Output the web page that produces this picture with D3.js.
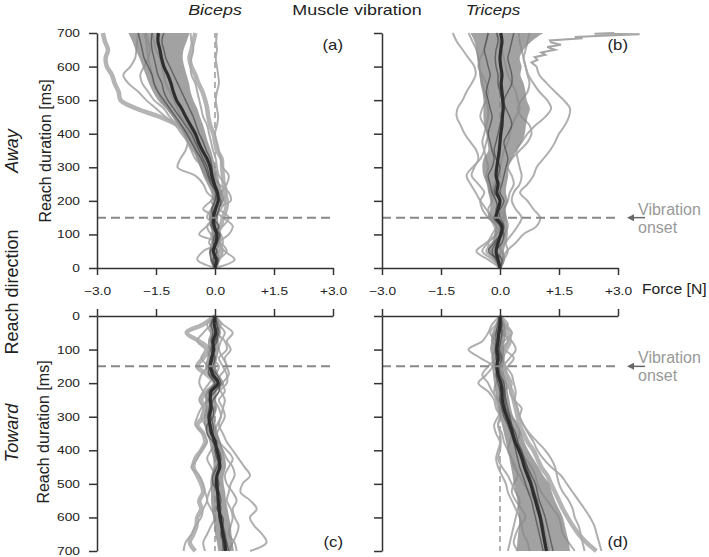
<!DOCTYPE html>
<html>
<head>
<meta charset="utf-8">
<script src="https://cdn.jsdelivr.net/npm/d3@7"></script>
<style>
  body { margin: 0; background: #fff; }
  svg { display: block; font-family: "Liberation Sans", Arial, sans-serif; }
</style>
</head>
<body>
<svg width="709" height="557"></svg>
<script>
// sample times (ms) shared by every trace
var times = [0, 25, 50, 75, 100, 125, 150, 175, 200, 225, 250, 275, 300, 325, 350, 375, 400, 425, 450, 475, 500, 525, 550, 575, 600, 625, 650, 675, 700];
var forceTicks = [-3, -1.5, 0, 1.5, 3];
var timeTicks = [0, 100, 200, 300, 400, 500, 600, 700];
var onsetTime = 150;

// (a) biceps, reach away
var bicAwayMean = [0.00, 0.03, -0.04, 0.02, 0.05, -0.02, -0.04, 0.01, 0.08, 0.06, -0.02, -0.08, -0.12, -0.20, -0.32, -0.42, -0.50, -0.62, -0.74, -0.85, -0.98, -1.06, -1.12, -1.20, -1.30, -1.36, -1.40, -1.45, -1.44];
var bicAwayLo = [-0.05, -0.10, -0.15, -0.10, -0.08, -0.12, -0.15, -0.10, -0.06, -0.10, -0.20, -0.30, -0.38, -0.45, -0.58, -0.70, -0.80, -0.92, -1.08, -1.25, -1.45, -1.58, -1.68, -1.76, -1.84, -1.92, -2.02, -2.10, -2.20];
var bicAwayHi = [0.05, 0.12, 0.08, 0.12, 0.16, 0.10, 0.08, 0.12, 0.22, 0.20, 0.12, 0.08, 0.02, -0.04, -0.10, -0.18, -0.24, -0.30, -0.38, -0.45, -0.55, -0.62, -0.66, -0.72, -0.78, -0.82, -0.80, -0.72, -0.65];
var bicAwayThick = [
  [0.00, 0.05, -0.10, 0.05, 0.10, 0.00, -0.10, -0.05, 0.05, 0.00, -0.05, -0.15, -0.30, -0.38, -0.45, -0.55, -0.68, -0.95, -1.40, -2.00, -2.40, -2.45, -2.55, -2.62, -2.75, -2.78, -2.72, -2.80, -2.85],
  [0.00, 0.08, 0.15, 0.10, 0.05, 0.15, 0.20, 0.28, 0.30, 0.25, 0.22, 0.20, 0.18, 0.17, 0.05, 0.00, -0.04, -0.12, -0.17, -0.20, -0.25, -0.32, -0.42, -0.50, -0.60, -0.65, -0.60, -0.55, -0.50]
];
var bicAwayLight = [
  [0.00, -0.10, 0.05, -0.15, -0.05, 0.10, -0.20, -0.10, 0.00, -0.20, -0.30, -0.50, -0.95, -0.88, -0.75, -0.70, -0.85, -1.00, -1.25, -1.50, -1.75, -1.95, -2.20, -2.33, -2.15, -2.03, -2.00, -1.98, -1.96],
  [0.00, 0.10, 0.20, 0.10, -0.10, -0.20, 0.00, 0.15, 0.25, 0.10, -0.10, -0.25, -0.35, -0.45, -0.50, -0.60, -0.75, -0.95, -1.15, -1.30, -1.55, -1.70, -1.85, -1.90, -1.80, -1.70, -1.65, -1.70, -1.75],
  [0.00, -0.05, 0.10, 0.20, 0.15, -0.05, -0.10, 0.05, 0.20, 0.30, 0.25, 0.10, 0.05, 0.02, -0.05, -0.10, -0.15, -0.20, -0.30, -0.35, -0.40, -0.45, -0.50, -0.60, -0.62, -0.60, -0.55, -0.60, -0.62],
  [0.00, 0.10, 0.30, 0.15, -0.10, 0.20, 0.35, 0.10, -0.10, 0.15, 0.30, 0.35, 0.20, 0.15, 0.10, 0.05, 0.00, 0.05, 0.08, 0.05, 0.02, 0.05, 0.10, 0.08, 0.05, 0.02, 0.05, 0.03, 0.05],
  [0.00, -0.45, -0.30, 0.10, -0.40, -0.20, 0.05, -0.30, -0.10, 0.10, 0.00, -0.20, -0.30, -0.50, -0.60, -0.70, -0.80, -0.92, -1.05, -1.20, -1.35, -1.45, -1.55, -1.60, -1.65, -1.70, -1.72, -1.75, -1.80],
  [0.00, 0.50, 0.25, 0.10, 0.35, 0.45, 0.20, 0.00, 0.40, 0.35, 0.10, -0.05, -0.15, -0.25, -0.35, -0.45, -0.55, -0.70, -0.85, -0.95, -1.05, -1.15, -1.25, -1.30, -1.35, -1.40, -1.50, -1.55, -1.60]
];
var bicAwayDark = [
  [0.00, -0.05, 0.05, -0.05, 0.00, 0.10, -0.05, 0.00, 0.10, 0.05, -0.05, -0.15, -0.20, -0.30, -0.40, -0.50, -0.60, -0.75, -0.90, -1.05, -1.20, -1.30, -1.35, -1.45, -1.50, -1.55, -1.60, -1.62, -1.60],
  [0.00, 0.08, -0.05, 0.05, 0.12, -0.05, 0.02, 0.10, 0.15, 0.05, 0.00, -0.05, -0.08, -0.12, -0.22, -0.30, -0.40, -0.48, -0.55, -0.65, -0.75, -0.85, -0.95, -1.05, -1.15, -1.25, -1.30, -1.35, -1.30],
  [0.00, -0.10, -0.12, 0.05, 0.05, -0.10, -0.05, -0.08, 0.00, 0.02, -0.10, -0.18, -0.25, -0.35, -0.48, -0.60, -0.72, -0.85, -1.00, -1.15, -1.30, -1.45, -1.55, -1.60, -1.70, -1.80, -1.85, -1.90, -1.95]
];

// (b) triceps, reach away
var triAwayMean = [0.00, -0.05, -0.10, -0.05, 0.02, 0.05, -0.10, -0.05, 0.00, -0.08, -0.05, -0.10, -0.08, -0.05, -0.02, 0.00, 0.02, 0.05, 0.06, 0.08, 0.07, 0.05, 0.03, 0.05, 0.02, 0.00, 0.02, 0.05, 0.02];
var triAwayLo = [-0.05, -0.15, -0.30, -0.20, -0.15, -0.12, -0.30, -0.25, -0.25, -0.30, -0.34, -0.42, -0.45, -0.42, -0.30, -0.32, -0.35, -0.40, -0.42, -0.42, -0.42, -0.45, -0.50, -0.52, -0.55, -0.58, -0.60, -0.65, -0.75];
var triAwayHi = [0.05, 0.12, 0.10, 0.15, 0.20, 0.18, 0.17, 0.15, 0.20, 0.15, 0.17, 0.21, 0.21, 0.30, 0.42, 0.55, 0.63, 0.66, 0.70, 0.76, 0.68, 0.65, 0.60, 0.52, 0.55, 0.50, 0.60, 0.80, 1.10];
var triAwayThick = [];
var triAwayLight = [
  [0.00, 0.05, 0.17, 0.40, 0.59, 0.93, 1.02, 0.85, 0.70, 0.51, 0.70, 0.85, 0.93, 1.10, 1.27, 1.40, 1.50, 1.65, 1.75, 1.78, 1.62, 1.40, 1.19, 1.00, 0.93, null, null, null, null],
  [0.00, 0.10, 0.20, 0.15, 0.30, 0.45, 0.55, 0.40, 0.30, 0.35, 0.50, 0.55, 0.50, 0.45, 0.42, 0.55, 0.70, 0.90, 1.15, 1.30, 1.20, 1.00, 0.85, 0.72, 0.65, 0.60, 0.55, 0.50, 0.48],
  [0.00, -0.10, -0.25, -0.30, -0.20, -0.10, -0.30, -0.45, -0.50, -0.40, -0.55, -0.72, -0.65, -0.55, -0.60, -0.75, -0.90, -1.00, -1.10, -1.08, -0.95, -0.85, -0.72, -0.62, -0.65, -0.80, -0.95, -1.10, -1.20],
  [0.00, -0.15, -0.35, -0.20, 0.05, -0.10, -0.20, -0.35, -0.50, -0.62, -0.75, -0.85, -0.70, -0.50, -0.40, -0.35, -0.30, -0.40, -0.50, -0.45, -0.35, -0.30, -0.35, -0.45, -0.55, -0.50, -0.40, -0.35, -0.30],
  [0.00, 0.10, 0.05, -0.10, 0.10, 0.20, 0.15, 0.10, 0.20, 0.25, 0.35, 0.30, 0.20, 0.30, 0.50, 0.70, 0.80, 0.75, 0.55, 0.45, 0.55, 0.70, 0.75, 0.70, 0.65, 0.60, 0.65, 0.70, 0.75],
  [0.00, -0.20, -0.45, -0.30, -0.10, 0.05, 0.10, 0.00, -0.10, -0.20, -0.15, -0.05, 0.00, 0.05, 0.10, 0.20, 0.25, 0.30, 0.40, 0.50, 0.45, 0.40, 0.30, 0.20, 0.15, 0.10, 0.05, 0.00, -0.10],
  [0.00, -0.30, -0.60, -0.35, -0.10, -0.15, -0.25, -0.30, -0.20, -0.25, -0.30, -0.35, -0.30, -0.35, -0.40, -0.45, -0.40, -0.35, -0.30, -0.30, -0.35, -0.40, -0.45, -0.50, -0.52, -0.55, -0.60, -0.70, -0.80]
];
// the jagged top of the first light trace, as [time, force] pairs
var triAwaySpike = [[600, 0.93], [612, 0.80], [620, 0.95], [628, 0.88], [635, 1.15], [642, 1.05], [650, 1.40], [658, 1.20], [665, 1.55], [672, 1.30], [678, 1.27], [684, 2.10], [688, 1.90], [692, 2.60], [696, 3.55], [698, 2.40], [700, 2.90]];
var triAwayDark = [
  [0.00, -0.05, -0.30, -0.15, 0.00, 0.05, -0.05, -0.10, 0.00, -0.15, -0.10, -0.05, 0.00, -0.10, -0.15, -0.10, -0.05, 0.00, 0.05, 0.10, 0.05, 0.00, -0.05, -0.05, -0.10, -0.12, -0.10, -0.05, -0.08],
  [0.00, 0.05, -0.10, 0.05, 0.10, 0.00, -0.15, 0.00, 0.10, 0.00, 0.05, 0.10, 0.15, 0.20, 0.15, 0.10, 0.20, 0.30, 0.25, 0.15, 0.10, 0.20, 0.30, 0.30, 0.25, 0.20, 0.25, 0.30, 0.35],
  [0.00, -0.10, -0.20, -0.10, 0.05, 0.10, 0.00, -0.05, -0.10, -0.20, -0.25, -0.30, -0.20, -0.15, -0.20, -0.25, -0.30, -0.25, -0.20, -0.25, -0.30, -0.35, -0.30, -0.25, -0.30, -0.35, -0.40, -0.35, -0.30]
];

// (c) biceps, reach toward
var bicTowardMean = [0.00, -0.02, 0.02, -0.05, -0.04, -0.08, -0.12, -0.05, 0.08, -0.10, -0.12, -0.10, -0.15, -0.13, -0.08, 0.00, 0.05, 0.10, 0.12, 0.05, 0.04, 0.07, 0.08, 0.10, 0.14, 0.17, 0.20, 0.25, 0.27];
var bicTowardLo = [-0.05, -0.15, -0.12, -0.18, -0.16, -0.20, -0.25, -0.18, -0.05, -0.22, -0.25, -0.24, -0.28, -0.27, -0.22, -0.14, -0.10, -0.05, -0.04, -0.10, -0.12, -0.10, -0.10, -0.08, -0.05, -0.02, 0.00, 0.05, 0.08];
var bicTowardHi = [0.05, 0.12, 0.15, 0.10, 0.10, 0.06, 0.02, 0.10, 0.22, 0.05, 0.02, 0.05, 0.00, 0.02, 0.07, 0.15, 0.20, 0.26, 0.28, 0.22, 0.22, 0.26, 0.28, 0.32, 0.36, 0.40, 0.42, 0.45, 0.48];
var bicTowardThick = [
  [0.00, -0.30, -0.72, -0.40, -0.15, -0.30, -0.45, -0.20, 0.00, -0.20, -0.35, -0.25, -0.30, -0.45, -0.30, -0.25, -0.35, -0.50, -0.55, -0.45, -0.35, -0.30, -0.40, -0.35, -0.45, -0.47, -0.55, -0.64, -0.50]
];
var bicTowardLight = [
  [0.00, 0.10, 0.25, 0.15, 0.10, 0.20, 0.30, 0.15, 0.05, 0.15, 0.25, 0.20, 0.15, 0.10, 0.20, 0.30, 0.45, 0.60, 0.75, 0.89, 0.70, 0.65, 0.90, 1.06, 0.89, 1.00, 1.20, 1.31, 0.89],
  [0.00, 0.20, 0.45, 0.30, 0.40, 0.25, 0.30, 0.35, 0.20, 0.25, 0.10, 0.20, 0.25, 0.15, 0.05, 0.10, 0.20, 0.30, 0.45, 0.50, 0.40, 0.35, 0.30, 0.40, 0.45, 0.40, 0.35, 0.50, 0.55],
  [0.00, -0.10, -0.30, -0.45, -0.25, -0.35, -0.20, -0.35, -0.40, -0.30, -0.20, -0.35, -0.45, -0.50, -0.30, -0.20, -0.35, -0.45, -0.60, -0.40, -0.30, -0.25, -0.20, -0.30, -0.35, -0.50, -0.60, -0.75, -0.80],
  [0.00, 0.15, 0.05, 0.25, 0.30, 0.10, 0.20, 0.30, 0.30, 0.10, 0.00, 0.10, 0.15, 0.05, 0.00, 0.10, 0.30, 0.45, 0.35, 0.25, 0.30, 0.45, 0.55, 0.45, 0.50, 0.60, 0.55, 0.45, 0.35],
  [0.00, -0.20, -0.10, 0.05, -0.20, -0.10, 0.10, 0.00, -0.15, -0.30, -0.40, -0.30, -0.35, -0.25, -0.10, 0.00, -0.10, -0.20, -0.10, 0.00, -0.05, -0.15, -0.20, -0.10, 0.00, -0.10, -0.20, -0.30, -0.25]
];
var bicTowardDark = [
  [0.00, 0.05, 0.10, 0.00, -0.10, -0.05, -0.10, 0.05, 0.15, 0.00, -0.15, -0.05, -0.05, -0.20, -0.20, -0.05, 0.10, 0.15, 0.10, 0.05, 0.00, 0.05, 0.10, 0.15, 0.10, 0.15, 0.25, 0.30, 0.35],
  [0.00, -0.10, -0.05, -0.10, 0.00, -0.12, -0.15, -0.15, 0.00, -0.15, -0.10, -0.15, -0.18, -0.10, -0.12, 0.05, 0.00, 0.05, 0.15, 0.05, 0.10, 0.05, 0.10, 0.05, 0.20, 0.20, 0.15, 0.20, 0.20],
  [0.00, 0.05, 0.05, 0.05, -0.05, 0.00, -0.05, -0.10, 0.10, 0.10, -0.05, -0.10, -0.10, -0.05, -0.05, -0.05, 0.05, 0.10, 0.05, -0.05, -0.05, 0.10, 0.15, 0.10, 0.10, 0.20, 0.25, 0.20, 0.25]
];

// (d) triceps, reach toward
var triTowardMean = [0.00, 0.00, -0.03, -0.05, -0.08, -0.05, -0.08, -0.05, 0.02, 0.05, 0.06, 0.10, 0.17, 0.25, 0.32, 0.38, 0.48, 0.56, 0.62, 0.70, 0.78, 0.84, 0.90, 0.96, 1.02, 1.06, 1.10, 1.14, 1.18];
var triTowardLo = [-0.05, -0.10, -0.20, -0.22, -0.25, -0.20, -0.20, -0.18, -0.15, -0.12, -0.08, -0.04, 0.00, 0.05, 0.10, 0.15, 0.20, 0.24, 0.28, 0.32, 0.35, 0.40, 0.44, 0.46, 0.48, 0.48, 0.46, 0.44, 0.42];
var triTowardHi = [0.05, 0.12, 0.15, 0.12, 0.10, 0.12, 0.08, 0.10, 0.18, 0.20, 0.24, 0.28, 0.34, 0.45, 0.55, 0.62, 0.72, 0.85, 0.98, 1.10, 1.25, 1.32, 1.40, 1.50, 1.60, 1.65, 1.70, 1.75, 1.78];
var triTowardThick = [
  [0.00, 0.10, 0.20, 0.25, 0.15, 0.05, 0.10, 0.15, 0.20, 0.30, 0.35, 0.40, 0.45, 0.50, 0.60, 0.70, 0.85, 0.95, 1.05, 1.20, 1.30, 1.40, 1.50, 1.60, 1.72, 1.85, 2.00, 2.20, 2.45]
];
var triTowardLight = [
  [0.00, 0.15, 0.30, 0.20, 0.10, 0.05, 0.15, 0.30, 0.35, 0.40, 0.38, 0.45, 0.50, 0.60, 0.72, 0.85, 0.95, 1.10, 1.30, 1.55, 1.70, 1.85, 2.00, 2.15, 2.29, 2.40, 2.46, 2.52, 2.58],
  [0.00, 0.20, 0.05, 0.30, 0.40, 0.25, 0.10, 0.20, 0.30, 0.25, 0.35, 0.55, 0.50, 0.60, 0.75, 0.95, 1.15, 1.30, 1.40, 1.45, 1.50, 1.60, 1.75, 1.85, 1.90, 2.00, 2.05, 2.10, 2.15],
  [0.00, -0.20, -0.30, -0.45, -0.80, -0.50, -0.20, -0.35, -0.55, -0.30, -0.15, -0.10, 0.00, -0.05, 0.05, 0.10, 0.20, 0.30, 0.35, 0.50, 0.60, 0.75, 0.90, 1.00, 1.05, 1.10, 1.15, 1.20, 1.25],
  [0.00, 0.10, -0.10, -0.20, 0.10, 0.35, 0.20, 0.05, -0.10, -0.15, -0.10, -0.05, 0.00, -0.05, 0.00, 0.02, 0.00, -0.05, 0.05, 0.20, 0.30, 0.40, 0.50, 0.45, 0.40, 0.35, 0.30, 0.25, 0.20],
  [0.00, -0.10, -0.25, -0.10, 0.05, -0.10, -0.30, -0.45, -0.30, -0.20, -0.05, 0.05, -0.05, -0.15, -0.10, 0.00, -0.05, -0.10, -0.05, 0.05, 0.15, 0.20, 0.30, 0.40, 0.50, 0.55, 0.60, 0.70, 0.75],
  [0.00, 0.05, 0.30, 0.10, -0.10, -0.20, -0.10, 0.10, 0.25, 0.10, 0.00, 0.15, 0.30, 0.45, 0.50, 0.45, 0.50, 0.65, 0.80, 0.90, 0.95, 1.05, 1.20, 1.35, 1.50, 1.55, 1.60, 1.75, 1.90],
  [0.00, -0.05, 0.10, 0.20, 0.00, -0.10, -0.05, 0.05, 0.10, 0.05, 0.00, 0.05, 0.15, 0.25, 0.30, 0.25, 0.20, 0.30, 0.40, 0.45, 0.35, 0.30, 0.40, 0.55, 0.65, 0.50, 0.40, 0.35, 0.45]
];
var triTowardDark = [
  [0.00, 0.05, 0.00, -0.05, -0.05, 0.00, -0.10, -0.05, 0.05, 0.10, 0.12, 0.15, 0.22, 0.30, 0.35, 0.42, 0.52, 0.60, 0.68, 0.75, 0.82, 0.88, 0.95, 1.00, 1.05, 1.10, 1.12, 1.15, 1.20],
  [0.00, -0.05, -0.10, -0.10, -0.12, -0.10, -0.05, -0.10, -0.05, 0.00, 0.00, 0.05, 0.10, 0.20, 0.28, 0.35, 0.40, 0.45, 0.50, 0.58, 0.65, 0.72, 0.80, 0.85, 0.90, 0.95, 1.00, 1.05, 1.10],
  [0.00, 0.02, 0.05, 0.02, -0.02, 0.05, -0.02, 0.00, 0.10, 0.12, 0.15, 0.20, 0.25, 0.30, 0.40, 0.45, 0.55, 0.62, 0.70, 0.80, 0.90, 0.95, 1.00, 1.08, 1.15, 1.20, 1.25, 1.30, 1.35]
];

var svg = d3.select("svg");
var ink = "#222";

var xLeft = d3.scaleLinear().domain([-3, 3]).range([97, 333]);
var xRight = d3.scaleLinear().domain([-3, 3]).range([382, 618]);
var yUp = d3.scaleLinear().domain([0, 700]).range([268, 33]);
var yDown = d3.scaleLinear().domain([0, 700]).range([316, 551]);

var panels = [
  {tag: "(a)", x: xLeft, y: yUp, top: true, labels: true, mean: bicAwayMean, lo: bicAwayLo, hi: bicAwayHi, thick: bicAwayThick, light: bicAwayLight, dark: bicAwayDark},
  {tag: "(b)", x: xRight, y: yUp, top: true, labels: false, mean: triAwayMean, lo: triAwayLo, hi: triAwayHi, thick: triAwayThick, light: triAwayLight, dark: triAwayDark, spike: triAwaySpike},
  {tag: "(c)", x: xLeft, y: yDown, top: false, labels: true, mean: bicTowardMean, lo: bicTowardLo, hi: bicTowardHi, thick: bicTowardThick, light: bicTowardLight, dark: bicTowardDark},
  {tag: "(d)", x: xRight, y: yDown, top: false, labels: false, mean: triTowardMean, lo: triTowardLo, hi: triTowardHi, thick: triTowardThick, light: triTowardLight, dark: triTowardDark}
];

// text in the source figure is drawn wide, so squeeze it out horizontally
function stretchLabels(sel, sx)
{
  sel.each(function()
  {
    var t = d3.select(this);
    var x = +t.attr("x") || 0;
    t.attr("x", x / sx).attr("transform", "scale(" + sx + ",1)");
  });
}

function addText(x, y, str, size, opts)
{
  opts = opts || {};
  var sx = opts.sx || 1;
  var t = svg.append("text")
    .attr("transform", "translate(" + x + "," + y + ")" + (opts.rotate ? " rotate(-90)" : " scale(" + sx + ",1)"))
    .attr("text-anchor", opts.anchor || "middle")
    .attr("font-size", size)
    .attr("fill", opts.fill || ink)
    .text(str);
  if (opts.italic) t.attr("font-style", "italic");
  return t;
}

function fmtForce(d)
{
  if (d === 0) return "0.0";
  return (d > 0 ? "+" : "\u2212") + Math.abs(d).toFixed(1);
}

function styleAxis(g)
{
  g.selectAll(".domain").attr("stroke", "#333").attr("stroke-width", 1.5);
  g.selectAll(".tick line").attr("stroke", "#333").attr("stroke-width", 1.5);
  g.selectAll(".tick text").attr("fill", ink).attr("font-size", 11)
   .attr("font-family", "\"Liberation Sans\", Arial, sans-serif");
}

panels.forEach(function(p)
{
  var g = svg.append("g");
  var line = d3.line()
    .defined(function(d) { return d !== null; })
    .x(function(d) { return p.x(d); })
    .y(function(d, i) { return p.y(times[i]); })
    .curve(d3.curveCatmullRom);
  var band = d3.area()
    .y(function(d, i) { return p.y(times[i]); })
    .x0(function(d, i) { return p.x(p.lo[i]); })
    .x1(function(d, i) { return p.x(p.hi[i]); })
    .curve(d3.curveCatmullRom);

  // zero reference
  g.append("line")
   .attr("x1", p.x(0)).attr("x2", p.x(0))
   .attr("y1", p.y(0)).attr("y2", p.y(700))
   .attr("stroke", "#999").attr("stroke-width", 1.5).attr("stroke-dasharray", "6,4");

  g.selectAll(".thick").data(p.thick).enter().append("path")
   .attr("d", line).attr("fill", "none")
   .attr("stroke", "#b4b4b4").attr("stroke-width", 4.5).attr("stroke-linejoin", "round");

  g.selectAll(".light").data(p.light).enter().append("path")
   .attr("d", line).attr("fill", "none")
   .attr("stroke", "#a6a6a6").attr("stroke-opacity", 0.9).attr("stroke-width", 2);

  if (p.spike)
  {
    g.append("path")
     .attr("d", d3.line().x(function(d) { return p.x(d[1]); }).y(function(d) { return p.y(d[0]); })(p.spike))
     .attr("fill", "none").attr("stroke", "#a6a6a6").attr("stroke-width", 2);
  }

  g.append("path").attr("d", band(p.mean))
   .attr("fill", "#888").attr("fill-opacity", 0.78);

  g.selectAll(".dark").data(p.dark).enter().append("path")
   .attr("d", line).attr("fill", "none")
   .attr("stroke", "#444").attr("stroke-opacity", 0.7).attr("stroke-width", 1.4);

  g.append("path").attr("d", line(p.mean)).attr("fill", "none")
   .attr("stroke", "#2e2e2e").attr("stroke-width", 3.2).attr("stroke-linejoin", "round");

  // vibration onset
  g.append("line")
   .attr("x1", p.x(-3)).attr("x2", p.x(3))
   .attr("y1", p.y(onsetTime)).attr("y2", p.y(onsetTime))
   .attr("stroke", "#888").attr("stroke-width", 2).attr("stroke-dasharray", "9,5");

  // axes
  var xAxis = p.top ? d3.axisBottom(p.x) : d3.axisTop(p.x);
  xAxis.tickValues(forceTicks).tickSize(7).tickSizeOuter(0).tickPadding(12)
       .tickFormat(p.top ? fmtForce : function() { return ""; });
  var gx = g.append("g").attr("transform", "translate(0," + p.y(0) + ")").call(xAxis);
  styleAxis(gx);
  stretchLabels(gx.selectAll(".tick text"), 1.25);

  var yAxis = d3.axisLeft(p.y).tickValues(timeTicks).tickSize(8).tickSizeOuter(0).tickPadding(9)
    .tickFormat(p.labels ? d3.format("d") : function() { return ""; });
  var gy = g.append("g").attr("transform", "translate(" + p.x(-3) + ",0)").call(yAxis);
  styleAxis(gy);
  stretchLabels(gy.selectAll(".tick text"), 1.25);

  addText(p.x(3) + 10, p.top ? 50 : 547, p.tag, 14, {anchor: "end", sx: 1.2});
});

// titles
addText(xLeft(0), 15, "Biceps", 14, {italic: true, sx: 1.28});
addText(357, 15, "Muscle vibration", 14, {sx: 1.28});
addText(xRight(0) - 7, 15, "Triceps", 14, {italic: true, sx: 1.22});
addText(642, 294, "Force [N]", 15, {anchor: "start", sx: 1.05});

// row labels
addText(18, 151, "Away", 18, {rotate: true, italic: true});
addText(18, 292, "Reach direction", 18, {rotate: true});
addText(18, 433, "Toward", 18, {rotate: true, italic: true});
addText(51, 151, "Reach duration [ms]", 16, {rotate: true});
addText(49, 432, "Reach duration [ms]", 16, {rotate: true});

// onset annotation, pointing at the dashed line in (b) and (d)
[yUp, yDown].forEach(function(y)
{
  var yy = y(onsetTime);
  svg.append("line").attr("x1", 645).attr("x2", 632).attr("y1", yy).attr("y2", yy)
     .attr("stroke", "#666").attr("stroke-width", 1.5);
  svg.append("path").attr("d", "M627," + yy + "L634," + (yy - 3.5) + "L634," + (yy + 3.5) + "Z")
     .attr("fill", "#666");
  addText(638, yy - 3, "Vibration", 16, {anchor: "start", fill: "#999"});
  addText(638, yy + 15, "onset", 16, {anchor: "start", fill: "#999"});
});
</script>
</body>
</html>
